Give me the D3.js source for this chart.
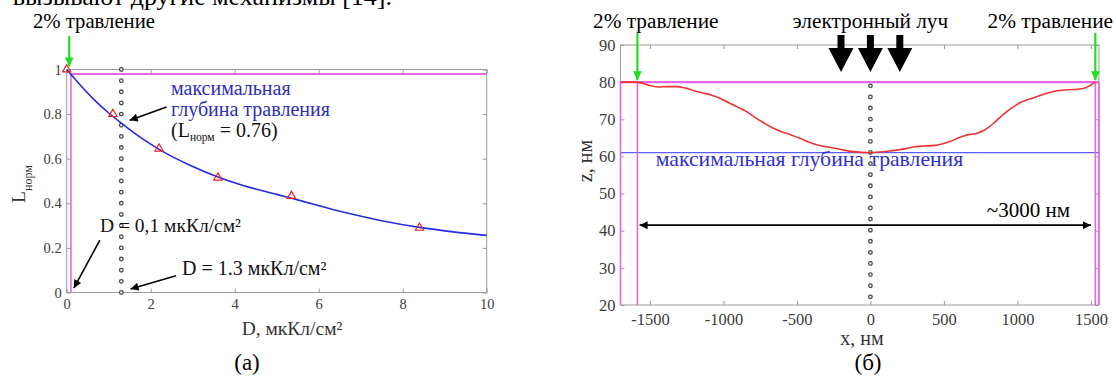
<!DOCTYPE html>
<html><head><meta charset="utf-8">
<script src="https://cdn.jsdelivr.net/npm/d3@7"></script>
<style>
body{margin:0;background:#fff}
svg{display:block}
text{font-family:"Liberation Serif","Times New Roman",serif}
</style>
</head><body>
<svg id="c" width="1116" height="379"></svg>
<script>
// ---------- data: panel (а) ----------
const doseMeasured   = [0, 1.1, 2.2, 3.6, 5.35, 8.4];
const lengthMeasured = [1.0, 0.8, 0.645, 0.515, 0.433, 0.29];
const doseFit   = [0, 0.3, 0.65, 1.0, 1.3, 1.8, 2.2, 3.0, 3.6, 4.2, 5.0, 5.4, 5.9, 6.7, 7.5, 8.4, 9.2, 10];
const lengthFit = [1.0, 0.935, 0.865, 0.805, 0.76, 0.69, 0.642, 0.565, 0.518, 0.48, 0.44, 0.42, 0.395, 0.355, 0.322, 0.292, 0.272, 0.256];
const leftXTicks = [0, 2, 4, 6, 8, 10];
const leftXTickLabels = ["0", "2", "4", "6", "8", "10"];
const leftYTicks = [0, 0.2, 0.4, 0.6, 0.8, 1];
const leftYTickLabels = ["0", "0.2", "0.4", "0.6", "0.8", "1"];
const leftEtchLevel = 0.98;     // 2% травление
const leftEtchDose = 0.1;
const leftMarkDose = 1.3;

// ---------- data: panel (б) ----------
const profileX = [-1700,-1600,-1560,-1500,-1440,-1380,-1320,-1260,-1200,-1140,-1080,-1020,-960,-900,-840,-780,-720,-660,-600,-540,-480,-420,-360,-300,-240,-180,-120,-60,0,60,120,180,240,300,360,420,480,540,600,660,720,780,840,900,960,1020,1080,1140,1200,1260,1320,1380,1440,1490,1530];
const profileZ = [80.0,80.0,79.8,79.1,78.7,78.8,78.8,78.4,77.7,77.1,76.5,75.6,74.4,73.2,72.0,70.4,68.9,67.6,66.6,65.8,64.9,63.9,63.1,62.6,62.2,61.7,61.3,61.1,61.0,61.2,61.4,61.7,62.1,62.6,62.8,62.9,63.3,64.0,65.0,65.8,66.2,67.2,69.0,71.2,73.0,74.5,75.4,76.2,77.0,77.6,77.9,78.0,78.2,79.0,80.0];
const rightXTicks = [-1500, -1000, -500, 0, 500, 1000, 1500];
const rightXTickLabels = ["-1500", "-1000", "-500", "0", "500", "1000", "1500"];
const rightYTicks = [20, 30, 40, 50, 60, 70, 80, 90];
const rightYTickLabels = ["20", "30", "40", "50", "60", "70", "80", "90"];
const surfaceLevel = 80;
const maxDepthLevel = 61;
const etchEdgesX = [-1585, 1530];
const beamX = [-200, 0, 200];
const spanArrowZ = 41.5;
const spanArrowX = [-1570, 1500];

// ---------- setup ----------
const SERIF = "Liberation Serif, Times New Roman, serif";
const svg = d3.select("#c");
svg.append("rect").attr("width", 1116).attr("height", 379).attr("fill", "#fff");
const PINK = "#e466e4", GREEN = "#22dd22", RED = "#ee3333", BLUE = "#2a2ae0", BOX = "#9a9a9a", TICKTXT = "#3c3c3c";

const defs = svg.append("defs");
function marker(id, color, w, h) {
  defs.append("marker").attr("id", id).attr("viewBox", "0 0 10 10")
    .attr("refX", 10).attr("refY", 5).attr("markerUnits", "userSpaceOnUse")
    .attr("markerWidth", w).attr("markerHeight", h).attr("orient", "auto-start-reverse")
    .append("path").attr("d", "M0,0 L10,5 L0,10 z").attr("fill", color);
}
marker("mGreen", GREEN, 12, 9);
marker("mBlack", "#000", 12, 8);

// top clipped paragraph text
svg.append("text").attr("x", 392).attr("y", 5).attr("text-anchor", "end")
  .attr("font-size", 26).attr("fill", "#000").text("вызывают другие механизмы [14].");

// ================= panel (а) =================
const xL = d3.scaleLinear().domain([0, 10]).range([66.7, 486.7]);
const yL = d3.scaleLinear().domain([0, 1]).range([292.5, 69.5]);
const gL = svg.append("g");

function styleAxis(g, size, color) {
  g.attr("font-family", SERIF).attr("font-size", size);
  g.select(".domain").remove();
  g.selectAll(".tick line").attr("stroke", BOX);
  g.selectAll(".tick text").attr("fill", color).attr("font-size", size).attr("font-family", SERIF);
}
const lxb = gL.append("g").attr("transform", `translate(0,${yL(0)})`)
  .call(d3.axisBottom(xL).tickValues(leftXTicks).tickFormat((d, i) => leftXTickLabels[i]).tickSize(-4).tickPadding(6));
styleAxis(lxb, 14.5, TICKTXT);
const lxt = gL.append("g").attr("transform", `translate(0,${yL(1)})`)
  .call(d3.axisTop(xL).tickValues(leftXTicks).tickFormat("").tickSize(-4));
styleAxis(lxt, 14.5, TICKTXT);
const lyl = gL.append("g").attr("transform", `translate(${xL(0)},0)`)
  .call(d3.axisLeft(yL).tickValues(leftYTicks).tickFormat((d, i) => leftYTickLabels[i]).tickSize(-4).tickPadding(5));
styleAxis(lyl, 14.5, TICKTXT);
const lyr = gL.append("g").attr("transform", `translate(${xL(10)},0)`)
  .call(d3.axisRight(yL).tickValues(leftYTicks).tickFormat("").tickSize(-4));
styleAxis(lyr, 14.5, TICKTXT);
gL.append("rect").attr("x", xL(0)).attr("y", yL(1)).attr("width", xL(10) - xL(0)).attr("height", yL(0) - yL(1))
  .attr("fill", "none").attr("stroke", BOX).attr("stroke-width", 1);

// pink 2% lines
gL.append("line").attr("x1", xL(leftEtchDose)).attr("x2", xL(10)).attr("y1", yL(leftEtchLevel)).attr("y2", yL(leftEtchLevel))
  .attr("stroke", PINK).attr("stroke-width", 2);
gL.append("line").attr("x1", xL(leftEtchDose)).attr("x2", xL(leftEtchDose)).attr("y1", yL(0)).attr("y2", yL(leftEtchLevel))
  .attr("stroke", PINK).attr("stroke-width", 1.6);

// dotted line at D = 1.3
const nDotsL = 21;
gL.selectAll("circle.dl").data(d3.range(nDotsL)).join("circle").attr("class", "dl")
  .attr("cx", xL(leftMarkDose)).attr("cy", i => yL(1) + i * (yL(0) - yL(1)) / (nDotsL - 1))
  .attr("r", 1.8).attr("fill", "#fff").attr("stroke", "#4a4a4a").attr("stroke-width", 1.3);

// fit curve
const fitPts = doseFit.map((d, i) => [d, lengthFit[i]]);
gL.append("path").datum(fitPts)
  .attr("d", d3.line().x(d => xL(d[0])).y(d => yL(d[1])).curve(d3.curveMonotoneX))
  .attr("fill", "none").attr("stroke", BLUE).attr("stroke-width", 1.6);

// measured triangles
const tri = d3.symbol().type(d3.symbolTriangle).size(30);
gL.selectAll("path.tri").data(doseMeasured.map((d, i) => [d, lengthMeasured[i]])).join("path").attr("class", "tri")
  .attr("d", tri).attr("transform", d => `translate(${xL(d[0])},${yL(d[1])})`)
  .attr("fill", "none").attr("stroke", "#ee2222").attr("stroke-width", 1.2);

// green arrow + label
gL.append("line").attr("x1", xL(0.06)).attr("x2", xL(0.06)).attr("y1", 36).attr("y2", yL(1) - 3)
  .attr("stroke", GREEN).attr("stroke-width", 2.2).attr("marker-end", "url(#mGreen)");
gL.append("text").attr("x", 33).attr("y", 28).attr("font-size", 20.7).text("2% травление");

// annotations
function annArrow(g, x1, y1, x2, y2) {
  g.append("line").attr("x1", x1).attr("y1", y1).attr("x2", x2).attr("y2", y2)
    .attr("stroke", "#000").attr("stroke-width", 1.6).attr("marker-end", "url(#mBlack)");
}
const mt = gL.append("text").attr("font-size", 20).attr("fill", "#2e2ebd");
mt.append("tspan").attr("x", 171).attr("y", 95).text("максимальная");
mt.append("tspan").attr("x", 171).attr("y", 116).text("глубина травления");
const lt = gL.append("text").attr("x", 171).attr("y", 137).attr("font-size", 20).attr("fill", "#111");
lt.append("tspan").text("(L");
lt.append("tspan").attr("font-size", 11.5).attr("dy", 4).text("норм");
lt.append("tspan").attr("dy", -4).text(" = 0.76)");
annArrow(gL, xL(2.38), yL(0.832), xL(1.5), yL(0.772));

gL.append("text").attr("x", 100).attr("y", 232).attr("font-size", 19.5).attr("fill", "#111").text("D = 0,1 мкКл/см²");
annArrow(gL, xL(0.79), yL(0.235), xL(0.17), yL(0.02));
gL.append("text").attr("x", 182).attr("y", 275).attr("font-size", 20).attr("fill", "#111").text("D = 1.3 мкКл/см²");
annArrow(gL, xL(2.6), yL(0.075), xL(1.52), yL(0.016));

// axis labels
gL.append("text").attr("x", 292).attr("y", 335).attr("text-anchor", "middle").attr("font-size", 19.5).attr("fill", "#333")
  .text("D, мкКл/см²");
const yl = gL.append("text").attr("transform", "translate(25,184) rotate(-90)").attr("text-anchor", "middle")
  .attr("font-size", 19.5).attr("fill", "#333");
yl.append("tspan").text("L");
yl.append("tspan").attr("font-size", 12).attr("dy", 7).text("норм");
gL.append("text").attr("x", 247).attr("y", 370).attr("text-anchor", "middle").attr("font-size", 23).text("(а)");

// ================= panel (б) =================
const xR = d3.scaleLinear().domain([-1700, 1555]).range([620.5, 1099]);
const yR = d3.scaleLinear().domain([20, 90]).range([305, 45]);
const gR = svg.append("g");
const rxb = gR.append("g").attr("transform", `translate(0,${yR(20)})`)
  .call(d3.axisBottom(xR).tickValues(rightXTicks).tickFormat((d, i) => rightXTickLabels[i]).tickSize(-4).tickPadding(8));
styleAxis(rxb, 16.5, TICKTXT);
const rxt = gR.append("g").attr("transform", `translate(0,${yR(90)})`)
  .call(d3.axisTop(xR).tickValues(rightXTicks).tickFormat("").tickSize(-4));
styleAxis(rxt, 16.5, TICKTXT);
const ryl = gR.append("g").attr("transform", `translate(${xR(-1700)},0)`)
  .call(d3.axisLeft(yR).tickValues(rightYTicks).tickFormat((d, i) => rightYTickLabels[i]).tickSize(-4).tickPadding(5));
styleAxis(ryl, 16.5, TICKTXT);
const ryr = gR.append("g").attr("transform", `translate(${xR(1555)},0)`)
  .call(d3.axisRight(yR).tickValues(rightYTicks).tickFormat("").tickSize(-4));
styleAxis(ryr, 16.5, TICKTXT);
gR.append("rect").attr("x", xR(-1700)).attr("y", yR(90)).attr("width", xR(1555) - xR(-1700)).attr("height", yR(20) - yR(90))
  .attr("fill", "none").attr("stroke", BOX).attr("stroke-width", 1);

// blue max depth line
gR.append("line").attr("x1", xR(-1700)).attr("x2", xR(1555)).attr("y1", yR(maxDepthLevel)).attr("y2", yR(maxDepthLevel))
  .attr("stroke", "#5c5cff").attr("stroke-width", 1.2);

// pink lines
gR.append("line").attr("x1", xR(-1700)).attr("x2", xR(1555)).attr("y1", yR(surfaceLevel)).attr("y2", yR(surfaceLevel))
  .attr("stroke", PINK).attr("stroke-width", 2.2);
[-1700, etchEdgesX[0], etchEdgesX[1], 1555].forEach(v => {
  gR.append("line").attr("x1", xR(v)).attr("x2", xR(v)).attr("y1", yR(20)).attr("y2", yR(surfaceLevel))
    .attr("stroke", PINK).attr("stroke-width", 1.6);
});

// dotted line at x = 0
const nDotsR = 20;
gR.selectAll("circle.dr").data(d3.range(nDotsR)).join("circle").attr("class", "dr")
  .attr("cx", xR(0)).attr("cy", i => yR(79) + i * (yR(22.2) - yR(79)) / (nDotsR - 1))
  .attr("r", 1.8).attr("fill", "#fff").attr("stroke", "#4a4a4a").attr("stroke-width", 1.3);

// profile
gR.append("path").datum(profileX.map((x, i) => [x, profileZ[i]]))
  .attr("d", d3.line().x(d => xR(d[0])).y(d => yR(d[1])).curve(d3.curveMonotoneX))
  .attr("fill", "none").attr("stroke", RED).attr("stroke-width", 1.6);

// max depth text
gR.append("text").attr("x", xR(-1460)).attr("y", 166).attr("font-size", 21.7).attr("fill", "#3030d0")
  .text("максимальная глубина травления");

// span arrow
gR.append("line").attr("x1", xR(spanArrowX[0])).attr("x2", xR(spanArrowX[1])).attr("y1", yR(spanArrowZ)).attr("y2", yR(spanArrowZ))
  .attr("stroke", "#000").attr("stroke-width", 1.8)
  .attr("marker-start", "url(#mBlack)").attr("marker-end", "url(#mBlack)");
gR.append("text").attr("x", 1070).attr("y", 217).attr("text-anchor", "end").attr("font-size", 21).text("~3000 нм");

// green arrows + labels
etchEdgesX.forEach(v => {
  gR.append("line").attr("x1", xR(v)).attr("x2", xR(v)).attr("y1", 33).attr("y2", yR(surfaceLevel) - 2)
    .attr("stroke", GREEN).attr("stroke-width", 2.2).attr("marker-end", "url(#mGreen)");
});
gR.append("text").attr("x", 593).attr("y", 28).attr("font-size", 21.3).text("2% травление");
gR.append("text").attr("x", 1113).attr("y", 28).attr("text-anchor", "end").attr("font-size", 21.3).text("2% травление");

// electron beam arrows
gR.append("text").attr("x", xR(0)).attr("y", 28).attr("text-anchor", "middle").attr("font-size", 21.3).text("электронный луч");
gR.selectAll("path.beam").data(beamX).join("path").attr("class", "beam")
  .attr("d", d => {
    const cx = xR(d), top = 35, neck = 48, tip = 72, sw = 3.5, hw = 12.5;
    return `M${cx - sw},${top} L${cx + sw},${top} L${cx + sw},${neck} L${cx + hw},${neck} L${cx},${tip} L${cx - hw},${neck} L${cx - sw},${neck} Z`;
  })
  .attr("fill", "#000");

// axis labels
gR.append("text").attr("x", 862).attr("y", 345).attr("text-anchor", "middle").attr("font-size", 20).attr("fill", "#333").text("x, нм");
gR.append("text").attr("transform", "translate(592,161) rotate(-90)").attr("text-anchor", "middle")
  .attr("font-size", 20).attr("fill", "#333").text("z, нм");
gR.append("text").attr("x", 868).attr("y", 370).attr("text-anchor", "middle").attr("font-size", 23).text("(б)");
</script>
</body></html>
